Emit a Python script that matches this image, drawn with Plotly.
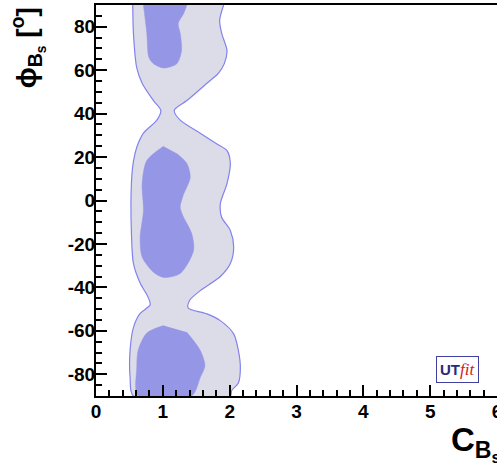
import plotly.graph_objects as go

# Outer (95%) region boundary: left edge top->bottom, right edge bottom->top
outer_left_phi = [90, 77, 61, 54, 46, 41.5, 37, 31, 24.5, 18, 8, -15, -29, -38, -44.5, -48, -52, -58.5, -69, -81.5, -90]
outer_left_c = [0.55, 0.56, 0.61, 0.69, 0.86, 0.97, 0.91, 0.71, 0.61, 0.56, 0.53, 0.53, 0.56, 0.66, 0.78, 0.81, 0.66, 0.56, 0.51, 0.51, 0.56]
outer_right_phi = [-90, -87.5, -84, -77, -69, -61.4, -55.3, -52.2, -49.5, -46, -41.5, -35, -29, -21.5, -13.8, -7.7, -1.5, 7.8, 17, 23, 26, 31, 37, 41.5, 46, 54, 58.5, 63, 69, 77, 83, 90]
outer_right_c = [2.01, 2.03, 2.13, 2.16, 2.13, 2.06, 1.86, 1.66, 1.38, 1.40, 1.56, 1.86, 2.01, 2.06, 2.01, 1.88, 1.86, 1.96, 2.01, 1.96, 1.81, 1.56, 1.26, 1.17, 1.36, 1.66, 1.83, 1.92, 1.96, 1.88, 1.85, 1.91]

# Inner (68%) regions
top_phi = [90, 77, 66, 63, 61, 63, 69, 77, 81.5, 86, 90]
top_c = [0.71, 0.76, 0.79, 0.86, 1.01, 1.21, 1.28, 1.26, 1.23, 1.31, 1.36]
mid_phi = [25, 18.4, 7.8, -4.6, -17, -26, -33, -35.4, -33.6, -23, -15, -7, -3, 2, 10.6, 17, 21.6]
mid_c = [1.01, 0.76, 0.69, 0.71, 0.66, 0.69, 0.86, 1.01, 1.26, 1.46, 1.43, 1.30, 1.26, 1.30, 1.41, 1.36, 1.21]
bot_phi = [-57.6, -61, -69, -77, -90, -90, -81.5, -76, -69, -60.7]
bot_c = [1.01, 0.76, 0.63, 0.61, 0.63, 1.43, 1.56, 1.63, 1.56, 1.36]

x_ticks = [0, 1, 2, 3, 4, 5, 6]
y_ticks = [-80, -60, -40, -20, 0, 20, 40, 60, 80]

LIGHT = "rgb(220,220,232)"
DARK = "rgb(150,150,230)"
EDGE = "rgb(130,130,238)"

fig = go.Figure()
fig.add_trace(go.Scatter(
    x=outer_left_c + outer_right_c, y=outer_left_phi + outer_right_phi,
    fill="toself", fillcolor=LIGHT, mode="lines",
    line=dict(color=EDGE, width=1.2, shape="spline", smoothing=0.8),
    hoverinfo="skip", showlegend=False))
for cx, cy in [(top_c, top_phi), (mid_c, mid_phi), (bot_c, bot_phi)]:
    fig.add_trace(go.Scatter(
        x=cx, y=cy, fill="toself", fillcolor=DARK, mode="lines",
        line=dict(color=DARK, width=0.5, shape="spline", smoothing=0.8),
        hoverinfo="skip", showlegend=False))

font_fam = "Liberation Sans, Arial, Helvetica, sans-serif"
axis_common = dict(
    showgrid=False, zeroline=False, showline=True, linecolor="black", linewidth=2,
    mirror=True, ticks="inside", ticklen=11, tickwidth=2, tickcolor="black",
    tickfont=dict(family=font_fam, size=19, color="black", weight="bold"),
    layer="above traces", automargin=False, ticklabeloverflow="allow",
)
fig.update_xaxes(range=[0, 6], tickvals=x_ticks, ticktext=[str(v) for v in x_ticks],
                 minor=dict(dtick=0.2, ticks="inside", ticklen=6, tickwidth=2, tickcolor="black"),
                 ticklabelstandoff=-3, **axis_common)
fig.update_yaxes(range=[-90, 90], tickvals=y_ticks, ticktext=[str(v) for v in y_ticks],
                 minor=dict(dtick=5, ticks="inside", ticklen=6, tickwidth=2, tickcolor="black"),
                 ticklabelstandoff=-5, **axis_common)

fig.update_layout(
    width=497, height=468,
    margin=dict(l=96, r=0, t=5, b=72, pad=0),
    paper_bgcolor="white", plot_bgcolor="white",
    annotations=[
        dict(text="<b>ϕ<sub>B<sub>s</sub></sub> [<sup>o</sup>]</b>", textangle=-90,
             xref="paper", yref="paper", x=-0.17, y=1.0, xanchor="center", yanchor="top",
             showarrow=False, font=dict(family=font_fam, size=28, color="black")),
        dict(text="<b>C<sub>B<sub>s</sub></sub></b>",
             xref="paper", yref="paper", x=1.015, y=-0.06, xanchor="right", yanchor="top",
             showarrow=False, font=dict(family=font_fam, size=33, color="black")),
        dict(text="<b><span style='color:#2a2a7a'>UT</span></b><i><span style='color:#d42020;font-family:Liberation Serif;font-size:17px'>fit</span></i>",
             xref="paper", yref="paper", x=0.9015, y=0.0678, xanchor="center", yanchor="middle",
             showarrow=False, font=dict(family=font_fam, size=15),
             bgcolor="white", bordercolor="#4040a0", borderwidth=1, borderpad=3),
    ],
)
fig.write_html("out.html", config={"displayModeBar": False},
               post_script="document.body.style.margin='0px';")
